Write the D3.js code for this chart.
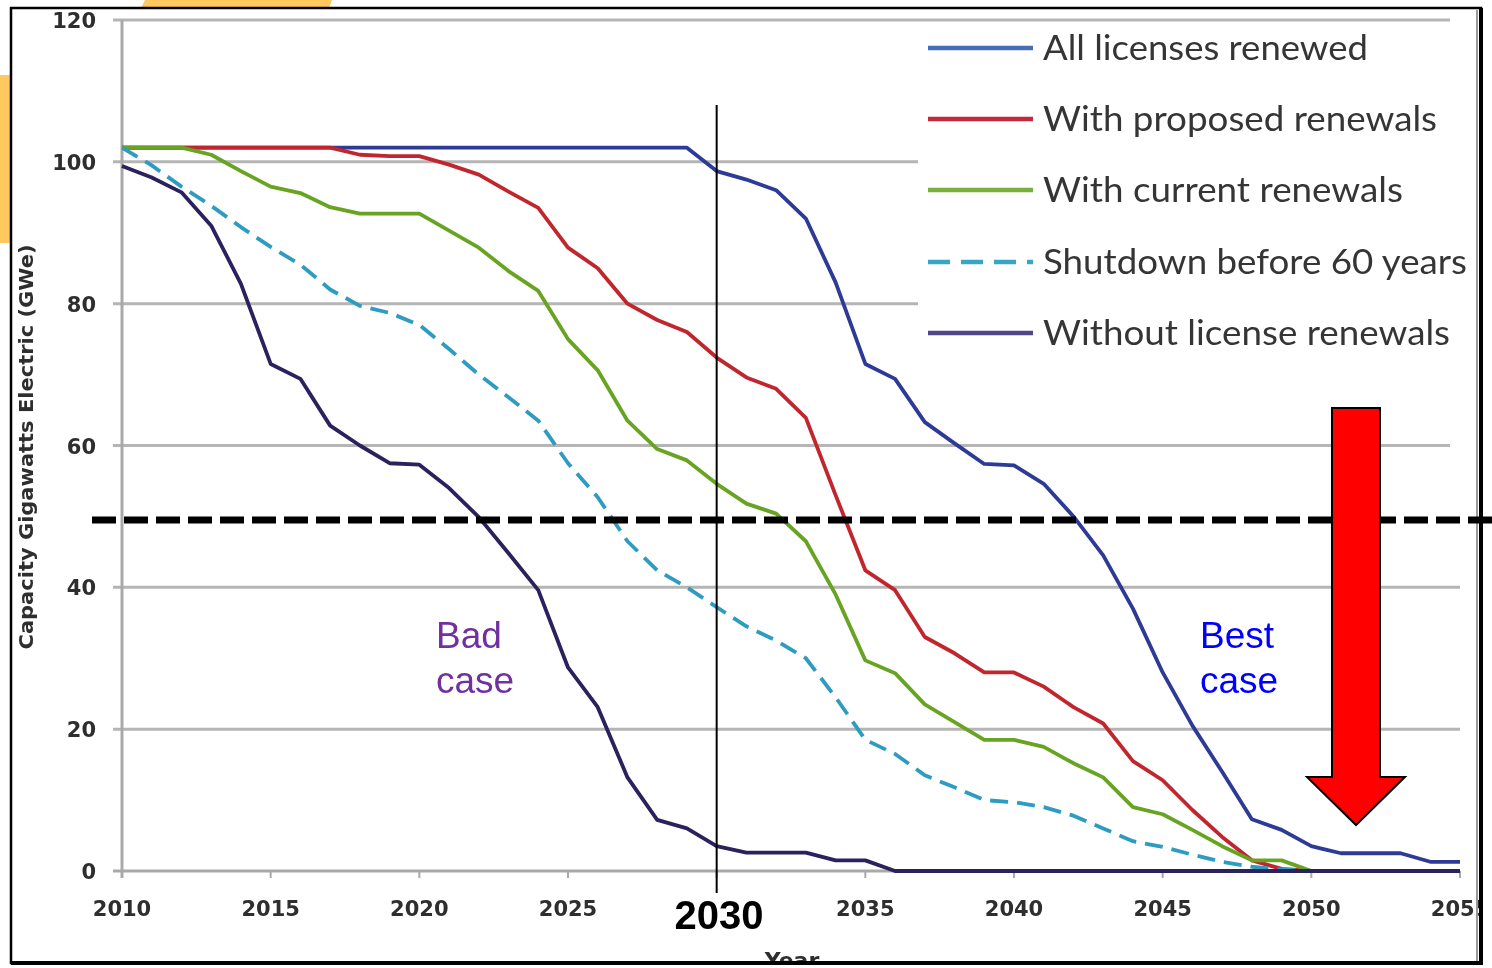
<!DOCTYPE html>
<html>
<head>
<meta charset="utf-8">
<script src="https://cdn.jsdelivr.net/npm/d3@7/dist/d3.min.js"></script>
<style>
  html, body { margin: 0; padding: 0; background: #ffffff; }
  svg { display: block; }
</style>
</head>
<body>
<svg id="chart" width="1492" height="968"></svg>
<script>
// ---------------- DATA ----------------
const years = [2010,2011,2012,2013,2014,2015,2016,2017,2018,2019,
               2020,2021,2022,2023,2024,2025,2026,2027,2028,2029,
               2030,2031,2032,2033,2034,2035,2036,2037,2038,2039,
               2040,2041,2042,2043,2044,2045,2046,2047,2048,2049,
               2050,2051,2052,2053,2054,2055];

const allRenewed = [102,102,102,102,102,102,102,102,102,102,
                    102,102,102,102,102,102,102,102,102,102,
                    98.7,97.5,96,92,83,71.5,69.4,63.3,60.3,57.4,
                    57.2,54.6,50,44.5,37,28,20.5,14,7.3,5.8,
                    3.5,2.5,2.5,2.5,1.3,1.3];

const proposedRenewals = [102,102,102,102,102,102,102,102,101,100.8,
                          100.8,99.6,98.2,95.8,93.5,87.9,85,80,77.7,76,
                          72.4,69.6,68,63.9,53,42.4,39.6,33,30.7,28,
                          28,26,23.1,20.8,15.5,12.8,8.6,4.8,1.5,0.3,
                          0,0,0,0,0,0];

const currentRenewals = [102,102,102,101,98.7,96.5,95.6,93.6,92.7,92.7,
                         92.7,90.3,87.9,84.6,81.8,75,70.6,63.5,59.5,57.9,
                         54.6,51.8,50.4,46.5,39,29.7,27.9,23.5,21,18.5,
                         18.5,17.5,15.2,13.2,9,8,5.8,3.5,1.5,1.5,
                         0,0,0,0,0,0];

const shutdown60 = [102,99.5,96.5,93.8,90.8,88,85.5,82,79.7,78.7,
                    77,73.6,70,66.8,63.5,57.5,52.7,46.5,42.4,40,
                    37.2,34.5,32.5,30,24.5,18.5,16.5,13.5,11.8,10,
                    9.7,9,7.8,6,4.2,3.4,2.3,1.3,0.6,0.2,
                    0,0,0,0,0,0];

const withoutRenewals = [99.4,97.8,95.7,91,82.8,71.5,69.4,62.8,60,57.5,
                         57.3,54,49.9,44.8,39.6,28.7,23.1,13.2,7.2,6,
                         3.5,2.6,2.6,2.6,1.5,1.5,0,0,0,0,
                         0,0,0,0,0,0,0,0,0,0,
                         0,0,0,0,0,0];

const seriesNames = ["All licenses renewed","With proposed renewals","With current renewals",
                     "Shutdown before 60 years","Without license renewals"];
const seriesValues = [allRenewed, proposedRenewals, currentRenewals, shutdown60, withoutRenewals];
const seriesColors = ["#2d3a96","#c1272d","#68a424","#2f9cc0","#2a205c"];
const legendColors = ["#4a6db4","#c42a3c","#78b03a","#35a6c4","#524589"];
const seriesDashed = [false,false,false,true,false];

const yTicks = [0,20,40,60,80,100,120];
const xTicks = [2010,2015,2020,2025,2030,2035,2040,2045,2050,2055];
const xTickLabels = ["2010","2015","2020","2025","2030","2035","2040","2045","2050","2055"];

const yAxisTitle = "Capacity Gigawatts Electric (GWe)";
const xAxisTitle = "Year";
const thresholdValue = 49.5;
const markerYear = 2030;
const markerLabel = "2030";
const badCase = ["Bad","case"];
const bestCase = ["Best","case"];

// ---------------- LAYOUT ----------------
const svg = d3.select("#chart");
const x = d3.scaleLinear().domain([2010, 2055]).range([122, 1460]);
const y = d3.scaleLinear().domain([0, 120]).range([871, 20]);

// orange decorations behind the picture
svg.append("polygon").attr("points", "145,0 332,0 329,8 141,8").attr("fill", "#ffc95f");
svg.append("rect").attr("x", 0).attr("y", 75).attr("width", 11).attr("height", 168).attr("fill", "#ffc95f");

const defs = svg.append("defs");
defs.append("clipPath").attr("id", "frameClip")
  .append("rect").attr("x", 12).attr("y", 9).attr("width", 1467).attr("height", 953);
const blur = defs.append("filter").attr("id", "soft").attr("x", "-5%").attr("y", "-5%").attr("width", "110%").attr("height", "110%");
blur.append("feGaussianBlur").attr("stdDeviation", 0.55);

const inner = svg.append("g").attr("clip-path", "url(#frameClip)");
inner.append("rect").attr("x", 12).attr("y", 9).attr("width", 1467).attr("height", 953).attr("fill", "#ffffff");

const chart = inner.append("g").attr("filter", "url(#soft)");

// gridlines
chart.append("g").selectAll("line").data(yTicks).join("line")
  .attr("x1", 113).attr("x2", d => d === 120 || d === 60 ? 1450 : 1460)
  .attr("y1", d => y(d)).attr("y2", d => y(d))
  .attr("stroke", d => d === 0 ? "#a9a9a9" : "#b5b5b5").attr("stroke-width", 3);

// y axis line
chart.append("line").attr("x1", 122).attr("x2", 122).attr("y1", y(120)).attr("y2", 878)
  .attr("stroke", "#a9a9a9").attr("stroke-width", 3);

// x tick marks
chart.append("g").selectAll("line").data(xTicks).join("line")
  .attr("x1", d => x(d)).attr("x2", d => x(d)).attr("y1", 871).attr("y2", 878)
  .attr("stroke", "#a9a9a9").attr("stroke-width", 2);

// legend background (hides gridlines)
chart.append("rect").attr("x", 918).attr("y", 30).attr("width", 560).attr("height", 328).attr("fill", "#ffffff");

// series lines
const line = d3.line().x((d, i) => x(years[i])).y(d => y(d));
chart.append("g").selectAll("path").data(seriesValues).join("path")
  .attr("d", d => line(d))
  .attr("fill", "none")
  .attr("stroke", (d, i) => seriesColors[i])
  .attr("stroke-width", 3.8)
  .attr("stroke-linejoin", "round")
  .attr("stroke-dasharray", (d, i) => seriesDashed[i] ? "18,9" : null);

// legend
const legendY = [48, 119, 190, 262, 333];
const legendWidths = [325, 394, 360, 424, 407];
const lg = chart.append("g").selectAll("g").data(seriesNames).join("g");
lg.append("line")
  .attr("x1", 928).attr("x2", 1033)
  .attr("y1", (d, i) => legendY[i]).attr("y2", (d, i) => legendY[i])
  .attr("stroke", (d, i) => legendColors[i]).attr("stroke-width", 4.5)
  .attr("stroke-dasharray", (d, i) => seriesDashed[i] ? "22,11" : null);
lg.append("text")
  .attr("x", 1043).attr("y", (d, i) => legendY[i] + 12)
  .attr("font-family", "Lato, 'Open Sans', sans-serif").attr("font-size", 35)
  .attr("fill", "#363636")
  .attr("textLength", (d, i) => legendWidths[i]).attr("lengthAdjust", "spacingAndGlyphs")
  .text(d => d);

// y tick labels
chart.append("g").selectAll("text").data(yTicks).join("text")
  .attr("x", 96).attr("y", d => y(d) + 8)
  .attr("text-anchor", "end")
  .attr("font-family", "'DejaVu Sans', sans-serif").attr("font-weight", "bold").attr("font-size", 21)
  .attr("fill", "#2f2f2f")
  .text(d => d);

// x tick labels (the 2030 one is hidden behind the annotation box in the reference)
chart.append("g").selectAll("text").data(xTicks.filter(d => d !== markerYear)).join("text")
  .attr("x", d => x(d)).attr("y", 916)
  .attr("text-anchor", "middle")
  .attr("font-family", "'DejaVu Sans', sans-serif").attr("font-weight", "bold").attr("font-size", 21)
  .attr("fill", "#2f2f2f")
  .text(d => xTickLabels[xTicks.indexOf(d)]);

// axis titles
chart.append("text")
  .attr("transform", "translate(33,447) rotate(-90)")
  .attr("text-anchor", "middle")
  .attr("font-family", "'DejaVu Sans', sans-serif").attr("font-weight", "bold").attr("font-size", 19)
  .attr("fill", "#2f2f2f")
  .attr("textLength", 405).attr("lengthAdjust", "spacingAndGlyphs")
  .text(yAxisTitle);
chart.append("text")
  .attr("x", 792).attr("y", 968)
  .attr("text-anchor", "middle")
  .attr("font-family", "'DejaVu Sans', sans-serif").attr("font-weight", "bold").attr("font-size", 22)
  .attr("fill", "#2f2f2f")
  .text(xAxisTitle);

// ---------------- ANNOTATIONS ----------------
const ann = inner.append("g");
ann.append("line")
  .attr("x1", x(markerYear)).attr("x2", x(markerYear)).attr("y1", 105).attr("y2", 893)
  .attr("stroke", "#000").attr("stroke-width", 2);
ann.append("rect").attr("x", 668).attr("y", 893).attr("width", 119).attr("height", 55).attr("fill", "#ffffff");
ann.append("text")
  .attr("x", 719).attr("y", 929).attr("text-anchor", "middle")
  .attr("font-family", "'Liberation Sans', Arial, sans-serif").attr("font-weight", "bold").attr("font-size", 40)
  .attr("fill", "#000").text(markerLabel);

ann.append("g").selectAll("text").data(badCase).join("text")
  .attr("x", 436).attr("y", (d, i) => 648 + i * 45)
  .attr("font-family", "'Liberation Sans', Arial, sans-serif").attr("font-size", 37)
  .attr("fill", "#7030a0").text(d => d);
ann.append("g").selectAll("text").data(bestCase).join("text")
  .attr("x", 1200).attr("y", (d, i) => 648 + i * 45)
  .attr("font-family", "'Liberation Sans', Arial, sans-serif").attr("font-size", 37)
  .attr("fill", "#0000ff").text(d => d);

// frame
svg.append("rect").attr("x", 11).attr("y", 8).attr("width", 1470).attr("height", 955)
  .attr("fill", "none").attr("stroke", "#000").attr("stroke-width", 2.5);
svg.append("line").attr("x1", 1481).attr("x2", 1481).attr("y1", 8).attr("y2", 965)
  .attr("stroke", "#000").attr("stroke-width", 4);
svg.append("line").attr("x1", 11).attr("x2", 1483).attr("y1", 963).attr("y2", 963)
  .attr("stroke", "#000").attr("stroke-width", 4);
svg.append("line").attr("x1", 1477).attr("x2", 1477).attr("y1", 10).attr("y2", 961)
  .attr("stroke", "#9a9a9a").attr("stroke-width", 2);

// threshold dashed line runs past the frame to the page edge
svg.append("line")
  .attr("x1", 92).attr("x2", 1492).attr("y1", y(thresholdValue)).attr("y2", y(thresholdValue))
  .attr("stroke", "#000").attr("stroke-width", 7).attr("stroke-dasharray", "24,8");

// red arrow
svg.append("polygon")
  .attr("points", "1332,408 1380,408 1380,777 1405,777 1356,825 1307,777 1332,777")
  .attr("fill", "#ff0000").attr("stroke", "#000").attr("stroke-width", 2).attr("stroke-linejoin", "miter");
</script>
</body>
</html>
